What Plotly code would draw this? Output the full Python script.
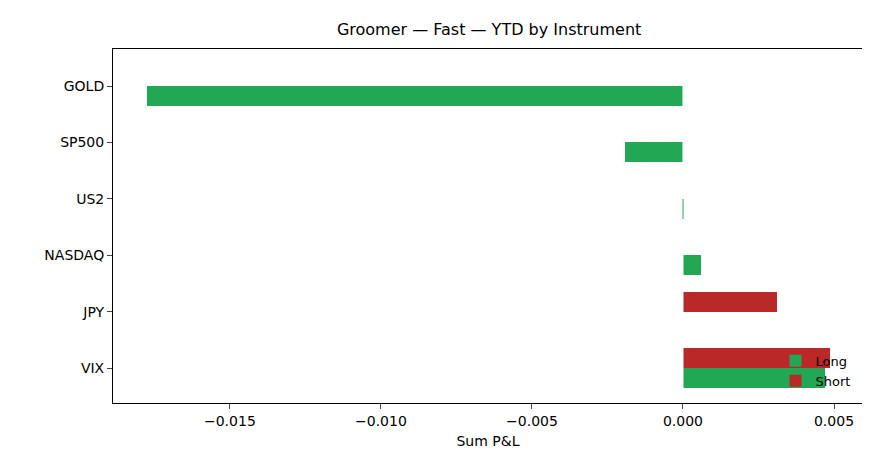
import plotly.graph_objects as go

instruments = ["GOLD", "SP500", "US2", "NASDAQ", "JPY", "VIX"]
long_pnl = [-0.01775, -0.00192, 0.00001, 0.0006, 0.0, 0.0047]
short_pnl = [0.0, 0.0, 0.0, 0.0, 0.00311, 0.00487]

pos = list(range(len(instruments)))
fig = go.Figure()
fig.add_trace(go.Bar(y=pos, x=long_pnl, orientation="h", name="Long",
                     marker=dict(color="#22a855", line=dict(width=0)),
                     width=0.35, offset=0))
fig.add_trace(go.Bar(y=pos, x=short_pnl, orientation="h", name="Short",
                     marker=dict(color="#bb2828", line=dict(width=0)),
                     width=0.35, offset=-0.35))
fig.add_shape(type="line", x0=0, x1=0, y0=0, y1=1, yref="paper",
              line=dict(color="white", width=1), layer="above")
fig.update_layout(
    width=870, height=469, plot_bgcolor="white", paper_bgcolor="white",
    font=dict(family="DejaVu Sans", size=14, color="black"),
    title=dict(text="Groomer — Fast — YTD by Instrument", x=0.553, xanchor="center",
               y=0.955, yanchor="middle", font=dict(size=16), automargin=False),
    margin=dict(l=105, r=15, t=41, b=74, autoexpand=False),
    barmode="overlay", bargap=0,
    showlegend=True,
    legend=dict(x=0.99, y=0.02, xanchor="right", yanchor="bottom",
                bgcolor="rgba(0,0,0,0)", font=dict(size=13)),
    xaxis=dict(range=[-0.01887, 0.00596], tickvals=[-0.015, -0.01, -0.005, 0, 0.005],
               ticktext=["\u22120.015", "\u22120.010", "\u22120.005", "0.000", "0.005"],
               showgrid=False, zeroline=False, showline=True, mirror=True, automargin=False,
               linecolor="black", ticks="outside", ticklen=5,
               title=dict(text="Sum P&L", font=dict(size=14), standoff=8)),
    yaxis=dict(range=[5.62, -0.656], tickvals=pos, ticktext=instruments, automargin=False,
               showgrid=False, zeroline=False, showline=True, mirror=True,
               linecolor="black", ticks="outside", ticklen=5),
)
fig.write_html("out.html")
